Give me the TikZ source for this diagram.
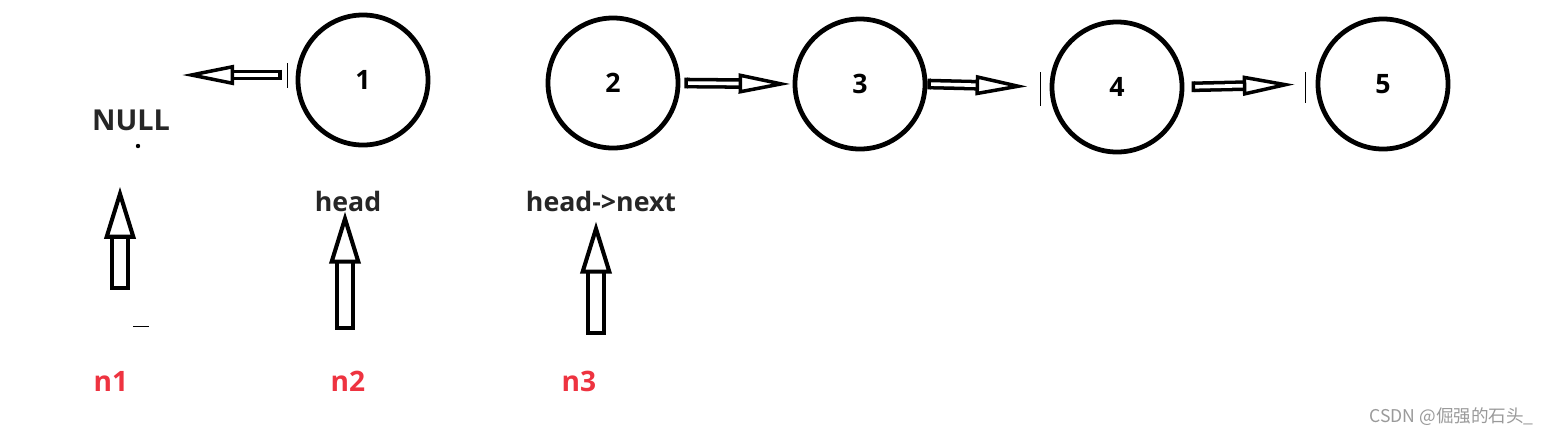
\documentclass[tikz,border=0pt]{standalone}
\usepackage{fontspec}
\setmainfont{Open Sans}
\newfontfamily\cjkfont{Noto Sans CJK SC}
\usetikzlibrary{arrows.meta}
\definecolor{labelred}{HTML}{EE3340}
\definecolor{markgray}{HTML}{9A9A9A}

\tikzset{
  listnode/.style={draw, circle, line width=3.4pt, minimum size=3.25cm, font=\fontsize{19}{22}\selectfont\bfseries},
  nametext/.style={inner sep=0pt, text=black!85, font=\fontsize{19}{22}\selectfont\bfseries},
  ptrlabel/.style={inner sep=0pt, text=labelred, font=\fontsize{20}{24}\selectfont\bfseries},
  nextptr/.style={double, line width=2.5pt, double distance=2.6pt, line join=round,
    {Bar[width=7.6pt, line width=2.5pt]}-{Triangle[open, fill=white, length=37pt, width=14pt, line width=2.5pt]}},
  upptr/.style={double, line width=2.9pt, double distance=8.2pt, line join=round,
    {Bar[width=14pt, line width=2.9pt]}-{Triangle[open, fill=white, length=37pt, width=22pt, line width=2.9pt]}}
}

\begin{document}
\begin{tikzpicture}[x=0.025cm, y=-0.025cm]
\useasboundingbox[fill=white] (0,0) rectangle (1549,437);

\node[listnode] (c1) at (363,80) {1};
\node[listnode] (c2) at (613,83) {2};
\node[listnode] (c3) at (860,84) {3};
\node[listnode] (c4) at (1117,87) {4};
\node[listnode] (c5) at (1383,84) {5};

\node[nametext, font=\fontsize{20.5}{24}\selectfont\bfseries] (null) at (131,120) {NULL};
\node[nametext] (head) at (348,201) {head};
\node[nametext] (headnext) at (601,201) {head-{}>next};

\node[ptrlabel] (n1) at (111,381) {n1};
\node[ptrlabel] (n2) at (348,381) {n2};
\node[ptrlabel] (n3) at (579,381) {n3};

\coordinate (nullend) at (182,75);
\draw[nextptr, shorten <=0.35cm] (c1.west |- nullend) -- (nullend);
\draw[nextptr, shorten <=0.1cm, shorten >=0.05cm] (c2.east) -- (c3.west);
\draw[nextptr, shorten >=0.55cm] (c3.east) -- (c4.west);
\draw[nextptr, shorten <=0.18cm, shorten >=0.52cm] (c4.east) -- (c5.west);

\coordinate (tail1) at (120,290);
\coordinate (tail2) at (345,330);
\coordinate (tail3) at (596,335);
\draw[upptr, shorten >=1.4cm] (tail1) -- (tail1 |- null.south);
\draw[upptr] (tail2) -- (tail2 |- head.south);
\draw[upptr, shorten >=0.25cm] (tail3) -- (tail3 |- headnext.south);

\draw[line width=0.6pt] (287,63) -- (287,88);
\draw[line width=0.6pt] (1040,72) -- (1040,106);
\draw[line width=0.6pt] (1305,72) -- (1305,103);
\fill (138,146) circle (2.2);
\draw[line width=0.7pt] (133,326) -- (149,326);

\node[anchor=east, inner sep=0pt, text=markgray, font=\cjkfont\fontsize{12.5}{15}\selectfont] (mark) at (1534,417) {CSDN @倔强的石头\_};
\end{tikzpicture}
\end{document}
